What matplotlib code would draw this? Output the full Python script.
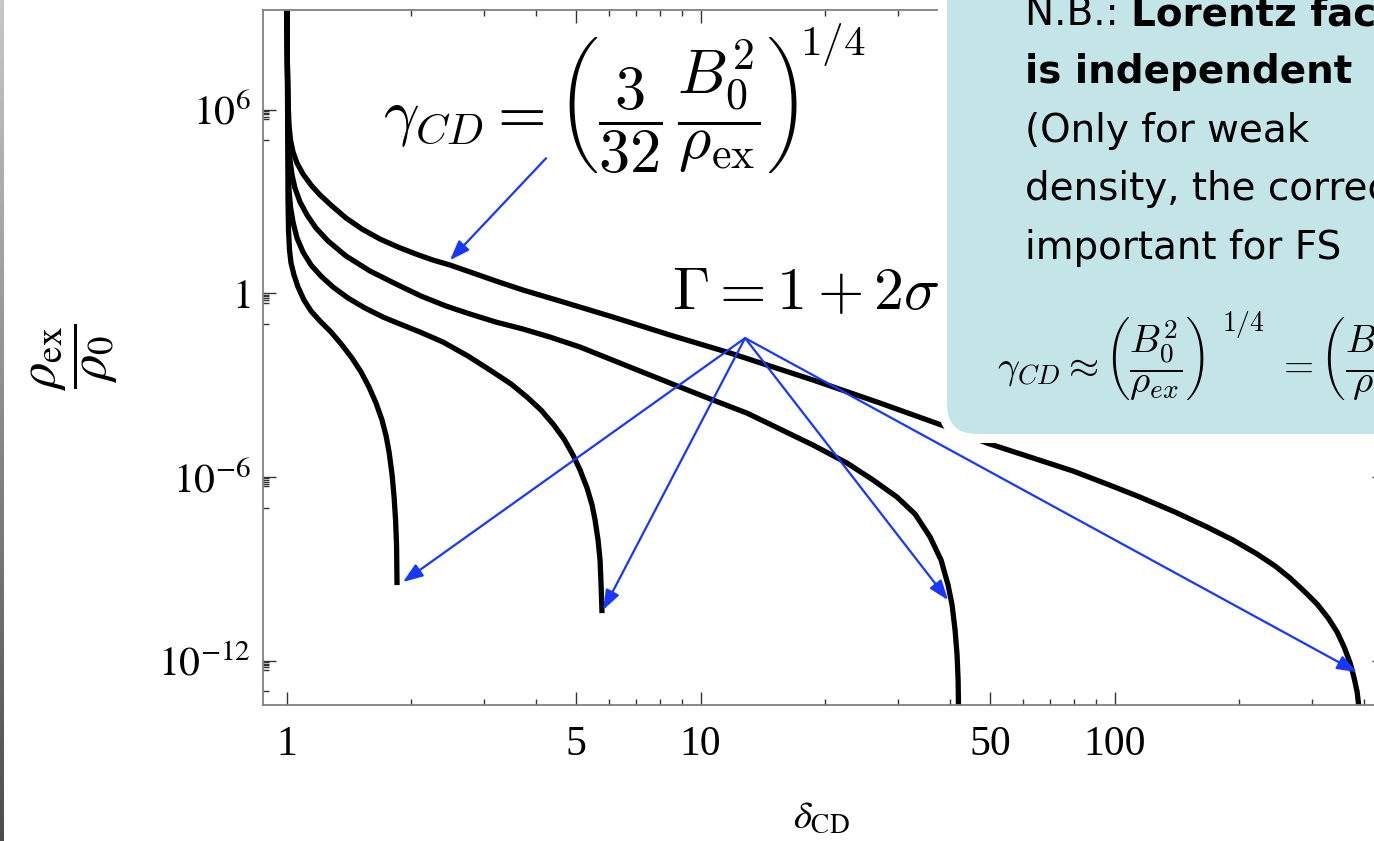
import numpy as np
import matplotlib
matplotlib.use('Agg')
import matplotlib.pyplot as plt
from matplotlib.patches import FancyBboxPatch
from matplotlib.transforms import IdentityTransform
from matplotlib.ticker import FixedLocator, FixedFormatter, NullFormatter

# curves (delta_CD, rho_ex / rho_0), one per Gamma
delta_a = [1.001, 1.0045, 1.0084, 1.014, 1.0225, 1.0368, 1.060, 1.096, 1.146, 1.205, 1.288, 1.392,
           1.522, 1.682, 1.859, 2.055, 2.259, 2.483, 2.822, 3.206, 3.727, 4.578, 6.146, 8.44, 11.79,
           18.70, 27.14, 39.39, 49.20, 62.5, 79.4, 95.9, 115.2, 140.0, 167.3, 193.3, 220.9, 244.2,
           265.4, 288.5, 308.4, 328.0, 344.7, 358.4, 370.6, 378.9, 385.3, 389.6]
rho_a = [1e10, 4.2e7, 2.07e6, 3.16e5, 1.02e5, 4.15e4, 1.81e4, 7.9e3, 3.46e3, 1.63e3, 713.0, 289.0,
         126.0, 59.5, 32.6, 19.2, 12.2, 8.41, 4.61, 2.52, 1.28, 0.56, 0.168, 0.0434, 0.0112,
         1.47e-3, 2.60e-4, 4.28e-5, 1.28e-5, 4.47e-6, 1.56e-6, 5.86e-7, 2.20e-7, 7.13e-8, 2.31e-8,
         8.67e-9, 3.03e-9, 1.23e-9, 4.97e-10, 1.73e-10, 7.02e-11, 2.45e-11, 8.53e-12, 2.76e-12,
         8.28e-13, 2.68e-13, 9.3e-14, 2.45e-14]

delta_b = [1.001, 1.0045, 1.0084, 1.014, 1.0197, 1.031, 1.048, 1.078, 1.121, 1.178, 1.260, 1.392,
           1.591, 1.839, 2.113, 2.428, 2.775, 3.206, 3.727, 4.33, 5.117, 6.755, 8.923, 10.72, 12.95,
           15.56, 18.70, 22.59, 26.11, 29.83, 32.97, 35.84, 38.10, 39.61, 40.50, 41.18, 41.64,
           41.88, 42.0]
rho_b = [1e10, 4.2e7, 9.8e5, 1.02e5, 2.27e4, 7.35e3, 2.76e3, 964.0, 362.0, 136.0, 51.2, 16.6,
         5.36, 2.01, 0.816, 0.385, 0.211, 0.115, 0.0681, 0.0373, 0.0176, 3.9e-3, 8.67e-4, 3.26e-4,
         1.22e-4, 3.67e-5, 1.10e-5, 2.84e-6, 7.92e-7, 2.20e-7, 6.14e-8, 1.09e-8, 1.92e-9, 2.93e-10,
         6.51e-11, 9.93e-12, 1.51e-12, 2.3e-13, 1.66e-14]

delta_c = [1.001, 1.0045, 1.0084, 1.0112, 1.014, 1.0225, 1.0368, 1.060, 1.096, 1.146, 1.211, 1.295,
           1.408, 1.547, 1.711, 1.880, 2.101, 2.388, 2.744, 3.154, 3.486, 3.810, 4.119, 4.404, 4.681,
           4.920, 5.117, 5.320, 5.470, 5.562, 5.655, 5.718, 5.751, 5.781]
rho_c = [1e10, 4.2e7, 2.17e5, 1.07e4, 2.38e3, 661.0, 214.0, 64.1, 22.4, 8.41, 3.67, 1.61, 0.702,
         0.331, 0.168, 0.0993, 0.0544, 0.0256, 8.93e-3, 2.68e-3, 1.09e-3, 4.08e-4, 1.53e-4, 5.35e-5,
         1.73e-5, 5.2e-6, 1.68e-6, 4.34e-7, 1.21e-7, 3.9e-8, 8.67e-9, 1.92e-9, 2.93e-10, 3.56e-11]

delta_d = [1.001, 1.0045, 1.0072, 1.0084, 1.0112, 1.0168, 1.0254, 1.0426, 1.066, 1.102, 1.146, 1.205,
           1.281, 1.362, 1.439, 1.514, 1.582, 1.645, 1.701, 1.740, 1.769, 1.799, 1.819, 1.834, 1.844,
           1.849]
rho_d = [1e10, 4.2e7, 4.82e4, 1.12e3, 117.0, 26.0, 9.77, 3.96, 1.61, 0.604, 0.264, 0.124, 0.0544,
         0.0204, 7.69e-3, 2.68e-3, 8.67e-4, 2.6e-4, 7.23e-5, 2.17e-5, 6.52e-6, 1.15e-6, 2.2e-7,
         3.9e-8, 5.96e-9, 2.94e-10]

# ticks
x_major = [1, 5, 10, 50, 100, 500]
x_major_labels = ['1', '5', '10', '50', '100', '500']
x_minor = [2, 3, 4, 6, 7, 8, 9, 20, 30, 40, 60, 70, 80, 90, 200, 300, 400]
y_major = [1e6, 1.0, 1e-6, 1e-12]
y_major_labels = [r'$10^{6}$', r'$1$', r'$10^{-6}$', r'$10^{-12}$']

# arrows: label point -> curve ends
gamma_arrow_from = (4.235, 2.6e4)
gamma_arrow_to = (2.483, 12.2)
sigma_arrow_from = (12.81, 0.0346)
sigma_arrow_to = [(1.911, 3.7e-10), (5.815, 4.5e-11), (39.6, 9.5e-11), (385.0, 4.2e-13)]

W, H = 1374, 841
blue = '#1737ff'


def main():

    plt.rcParams['mathtext.fontset'] = 'stix'
    plt.rcParams['font.family'] = 'Liberation Serif'

    fig = plt.figure(figsize=(W / 100, H / 100), dpi=100)
    ax = fig.add_axes([263 / W, 1 - 705 / H, (1385 - 263) / W, (705 - 10) / H])

    # the four curves
    for dx, ry in [(delta_a, rho_a), (delta_b, rho_b), (delta_c, rho_c), (delta_d, rho_d)]:
        ax.plot(dx, ry, color='black', lw=3.8, solid_capstyle='butt', solid_joinstyle='round')

    ax.set_xscale('log')
    ax.set_yscale('log')
    ax.set_xlim(10 ** -0.0568, 10 ** 2.653)
    ax.set_ylim(10 ** -13.45, 10 ** 9.258)

    # ticks, Mathematica style (inside, on all sides)
    ax.xaxis.set_major_locator(FixedLocator(x_major))
    ax.xaxis.set_major_formatter(FixedFormatter(x_major_labels))
    ax.xaxis.set_minor_locator(FixedLocator(x_minor))
    ax.xaxis.set_minor_formatter(NullFormatter())
    ax.yaxis.set_major_locator(FixedLocator(y_major))
    ax.yaxis.set_major_formatter(FixedFormatter(y_major_labels))
    y_minor = []
    for m in [6, 0, -6, -12]:
        y_minor += [k * 10.0 ** m for k in (0.5, 0.6, 0.7, 0.8, 0.9)]
        y_minor.append(10.0 ** (m - 1))
    ax.yaxis.set_minor_locator(FixedLocator(y_minor))
    ax.yaxis.set_minor_formatter(NullFormatter())

    ax.tick_params(which='both', direction='in', top=True, right=True, color='#333333', width=1.0)
    ax.tick_params(which='major', length=9.4, labelsize=30)
    ax.tick_params(which='minor', length=4.3)
    ax.tick_params(axis='x', which='major', pad=15)
    ax.tick_params(axis='y', which='major', pad=9)
    for s in ax.spines.values():
        s.set_color('#808080')
        s.set_linewidth(1.3)

    # axis labels
    ax.set_xlabel(r'$\delta_{\mathrm{CD}}$', fontsize=28)
    ax.xaxis.set_label_coords(0.498, -0.1367)
    ax.set_ylabel(r'$\dfrac{\rho_{\mathrm{ex}}}{\rho_0}$', fontsize=38)
    ax.yaxis.set_label_coords(-0.1275, 0.5)

    # blue arrows
    head = dict(arrowstyle='-|>,head_length=0.6,head_width=0.22', color=blue, lw=1.6,
                shrinkA=0, shrinkB=0, mutation_scale=20)
    ax.annotate('', xy=gamma_arrow_to, xytext=gamma_arrow_from, arrowprops=head,
                annotation_clip=False)
    for tip in sigma_arrow_to:
        ax.annotate('', xy=tip, xytext=sigma_arrow_from, arrowprops=head, annotation_clip=False)

    px = IdentityTransform()

    # formulas on the plot (exponent set apart, raised like in LaTeX display style)
    fig.text(383, H - 105,
             r'$\gamma_{CD} = \left(\dfrac{3}{32}\,\dfrac{B_0^2}{\rho_{\mathrm{ex}}}\right)$',
             fontsize=45, math_fontfamily='cm', ha='left', va='center', zorder=4, transform=px)
    fig.text(800, H - 45, r'$1/4$', fontsize=31, math_fontfamily='cm', ha='left',
             va='center', zorder=4, transform=px)
    fig.text(672, H - 309, r'$\Gamma = 1 + 2\sigma$', fontsize=43,
             math_fontfamily='cm', ha='left', va='baseline', zorder=4, transform=px)

    # note box (white halo + teal rounded box), cut by the figure edge
    halo = FancyBboxPatch((938, H - 443), 700, 700, boxstyle='round,pad=0,rounding_size=39',
                          transform=px, facecolor='white', edgecolor='none', zorder=1)
    box = FancyBboxPatch((947, H - 434), 700, 700, boxstyle='round,pad=0,rounding_size=30',
                         transform=px, facecolor='#c4e5e8', edgecolor='none', zorder=2)
    fig.add_artist(halo)
    fig.add_artist(box)

    note = dict(family='DejaVu Sans', fontsize=28, ha='left', va='baseline', zorder=5,
                transform=px)
    t = fig.text(1025, H - 25, 'N.B.: ', **note)
    renderer = fig.canvas.get_renderer()
    bb = t.get_window_extent(renderer)
    fig.text(bb.x1, H - 25, 'Lorentz factor', fontweight='bold', **note)
    fig.text(1025, H - 83, 'is independent', fontweight='bold', **note)
    fig.text(1025, H - 142, '(Only for weak', **note)
    fig.text(1025, H - 200, 'density, the correction', **note)
    fig.text(1025, H - 259, 'important for FS', **note)

    box_math = dict(fontsize=28, math_fontfamily='cm', ha='left', va='center', zorder=5,
                    transform=px)
    fig.text(997, H - 358, r'$\gamma_{CD} \approx \left(\dfrac{B_0^2}{\rho_{ex}}\right)$',
             **box_math)
    fig.text(1222, H - 324, r'$1/4$', fontsize=20, math_fontfamily='cm', ha='left',
             va='center', zorder=5, transform=px)
    fig.text(1277, H - 358, r'$= \left(\dfrac{B_0^2}{\rho_0}\right)$', **box_math)

    # grey window edge on the left
    strip = fig.add_axes([0, 0, 4 / W, 1])
    strip.imshow(np.linspace(0.78, 0.3, 100).reshape(-1, 1), cmap='gray', vmin=0, vmax=1,
                 aspect='auto')
    strip.axis('off')

    fig.savefig('out.png', dpi=100)


if __name__ == '__main__':
    main()
